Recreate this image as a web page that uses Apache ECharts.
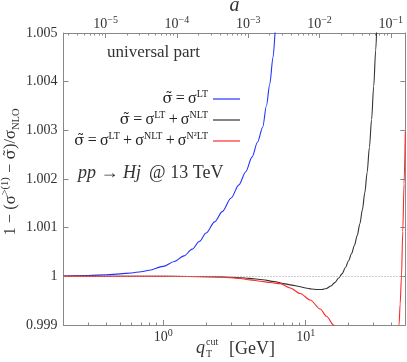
<!DOCTYPE html>
<html><head><meta charset="utf-8">
<script src="https://cdn.jsdelivr.net/npm/echarts@6/dist/echarts.min.js"></script>
<style>html,body{margin:0;padding:0;background:#fff}#c{width:407px;height:362px}</style>
</head><body><div id="c"></div>
<script>
// ---- data ----
const qLT  = [0.2,0.3,0.4,0.5,0.6,0.7,0.8,1.0,1.2,1.4,1.6,1.8,2.0,2.3,2.6,3.0,3.4,3.8,4.2,4.6,5.0,5.3,5.6,5.9,6.2,6.5];
const vLT  = [1.000008,1.000018,1.000032,1.000050,1.000070,1.000095,1.000125,1.000205,1.000305,1.000420,1.000560,1.000720,1.000890,1.001120,1.001330,1.001610,1.001880,1.002150,1.002450,1.002760,1.003070,1.003500,1.003950,1.004500,1.005200,1.006000];

const qNLT = [0.2,0.5,1,1.5,2,2.5,3,3.5,4,5,6,7,8,9,10,11,12,13,14,15,16,17,18,19,20,21,22,23,24,25,26,27,28,29,30,31,32,33];
const vNLT = [1.0,1.0,1.0,0.999998,0.999995,0.99999,0.999982,0.999972,0.999958,0.99993,0.999895,0.99985,0.99982,0.99979,0.99976,0.99974,0.99973,0.99973,0.99975,0.99980,0.99987,0.99996,1.00005,1.00018,1.00032,1.00047,1.00064,1.00084,1.00108,1.00137,1.00172,1.00214,1.00265,1.00322,1.00390,1.00465,1.00550,1.00650];

const qN2LT = [0.2,0.5,1,1.5,2,2.5,3,3.5,4.08,4.8,5.64,6.63,7.79,9.15,10.76,12.65,14,15.7,17,20,25,30,35,40,43,45.2,46,47,48,49,50];
const vN2LT = [1.0,1.0,0.999999,0.999996,0.99999,0.999982,0.99997,0.999955,0.999928,0.9999,0.999872,0.99985,0.99976,0.999647,0.999513,0.999329,0.99918,0.999,0.99885,0.9985,0.998,0.9977,0.9977,0.9981,0.99855,0.999,0.99943,1.0,1.00092,1.0019,1.00297];

const seriesNames = ['LT','NLT','N2LT'];
const legendLabels = {
  LT:   '{t|σ\u0303}{m|\u2009=\u2009σ}{s|LT}',
  NLT:  '{t|σ\u0303}{m|\u2009=\u2009σ}{s|LT}{m|\u2009+\u2009σ}{s|NLT}',
  N2LT: '{t|σ\u0303}{m|\u2009=\u2009σ}{s|LT}{m|\u2009+\u2009σ}{s|NLT}{m|\u2009+\u2009σ}{s|N²LT}'
};

const xMin = 0.2, xMax = 50, mH = 125;
const xMajorTicks = [1, 10];
const xMinorTicks = [0.2,0.3,0.4,0.5,0.6,0.7,0.8,0.9,2,3,4,5,6,7,8,9,20,30,40,50];
const aMajorTicks = [1e-5,1e-4,1e-3,1e-2,1e-1];
const aMinorTicks = [3e-6,4e-6,5e-6,6e-6,7e-6,8e-6,9e-6,2e-5,3e-5,4e-5,5e-5,6e-5,7e-5,8e-5,9e-5,2e-4,3e-4,4e-4,5e-4,6e-4,7e-4,8e-4,9e-4,2e-3,3e-3,4e-3,5e-3,6e-3,7e-3,8e-3,9e-3,2e-2,3e-2,4e-2,5e-2,6e-2,7e-2,8e-2,9e-2];
const yMin = 0.999, yMax = 1.005, yStep = 0.001;

// ---- styling ----
const FONT = '"Liberation Serif", "DejaVu Serif", serif';
const DJ = '"DejaVu Serif", serif';
const AX = '#888888';
const TXT = '#333333';
const colors = {LT:'#2233ff', NLT:'#333333', N2LT:'#ff2a2a'};

const pow10Label = v => {
  const e = Math.round(Math.log10(v));
  return '{b|10}{s|' + (e < 0 ? '\u2212' + (-e) : e) + '}';
};
const tickRich = {
  b: {fontFamily: FONT, fontSize: 14, color: TXT, lineHeight: 18},
  s: {fontFamily: FONT, fontSize: 10, color: TXT, verticalAlign: 'top', lineHeight: 10}
};

const aMin = Math.pow(xMin/mH, 2), aMax = Math.pow(xMax/mH, 2);

function logAxis(opts) {
  return Object.assign({
    type: 'log', logBase: 10, gridIndex: 0,
    splitLine: {show: false}, minorTick: {show: false}, minorSplitLine: {show: false},
    axisLine: {show: false, onZero: false}
  }, opts);
}

const chart = echarts.init(document.getElementById('c'), null, {renderer: 'canvas'});
const mk = (name, qs, vs, extra) => Object.assign({
  name, type: 'line', xAxisIndex: 0, yAxisIndex: 0,
  data: qs.map((q, i) => [q, vs[i]]),
  symbol: 'none', showSymbol: false, smooth: 0.3, smoothMonotone: 'x',
  lineStyle: {width: 1.1, color: colors[name]}, itemStyle: {color: colors[name]},
  clip: true, silent: true
}, extra || {});

const legends = seriesNames.map((n, i) => ({
  data: [n], right: 167, top: 89 + i * 21, orient: 'horizontal', align: 'right',
  icon: 'rect', itemWidth: 27, itemHeight: 1.2, padding: 0, selectedMode: false,
  formatter: name => legendLabels[name],
  textStyle: {
    fontFamily: FONT, fontSize: 16, color: '#222',
    rich: {
      t: {fontFamily: DJ, fontSize: 15, color: '#222', lineHeight: 20},
      m: {fontFamily: FONT, fontSize: 16, color: '#222', lineHeight: 20},
      s: {fontFamily: FONT, fontSize: 10, color: '#222', verticalAlign: 'top', lineHeight: 12}
    }
  }
}));

chart.setOption({
  animation: false,
  backgroundColor: '#fff',
  grid: {left: 63.5, right: 1.7, top: 33, bottom: 37, containLabel: false, outerBoundsMode: 'none'},
  legend: legends,
  xAxis: [
    logAxis({min: xMin, max: xMax, position: 'bottom',
      axisLine: {show: true, onZero: false, lineStyle: {color: AX, width: 1}},
      axisTick: {show: true, inside: true, length: 5, customValues: xMajorTicks, lineStyle: {color: AX}},
      axisLabel: {show: true, customValues: xMajorTicks, formatter: pow10Label, margin: 3, rich: tickRich}
    }),
    logAxis({min: aMin, max: aMax, position: 'top',
      name: 'a', nameLocation: 'middle', nameGap: 27, nameMoveOverlap: false,
      nameTextStyle: {fontFamily: FONT, fontStyle: 'italic', fontSize: 20, color: TXT, verticalAlign: 'middle'},
      axisLine: {show: true, onZero: false, lineStyle: {color: AX, width: 1}},
      axisTick: {show: true, inside: true, length: 5, customValues: aMajorTicks, lineStyle: {color: AX}},
      axisLabel: {show: true, customValues: aMajorTicks, formatter: pow10Label, margin: 0, rich: tickRich}
    }),
    logAxis({min: xMin, max: xMax, position: 'bottom',
      axisTick: {show: true, inside: true, length: 2.5, customValues: xMinorTicks, lineStyle: {color: AX}},
      axisLabel: {show: false}
    }),
    logAxis({min: aMin, max: aMax, position: 'top',
      axisTick: {show: true, inside: true, length: 2.5, customValues: aMinorTicks, lineStyle: {color: AX}},
      axisLabel: {show: false}
    })
  ],
  yAxis: [
    {type: 'value', min: yMin, max: yMax, interval: yStep, position: 'left', gridIndex: 0,
      splitLine: {show: false},
      axisLine: {show: true, onZero: false, lineStyle: {color: AX, width: 1}},
      axisTick: {show: true, inside: true, length: 5, lineStyle: {color: AX}},
      axisLabel: {margin: 6, fontFamily: FONT, fontSize: 14, color: TXT,
        formatter: v => (+v).toFixed(3).replace(/\.?0+$/, '')}
    },
    {type: 'value', min: yMin, max: yMax, interval: yStep, position: 'right', gridIndex: 0,
      splitLine: {show: false},
      axisLine: {show: true, onZero: false, lineStyle: {color: AX, width: 1}},
      axisTick: {show: true, inside: true, length: 5, lineStyle: {color: AX}},
      axisLabel: {show: false}
    }
  ],
  series: [
    mk('LT', qLT, vLT, {
      markLine: {silent: true, symbol: ['none','none'], label: {show: false},
        lineStyle: {color: '#999', type: [1, 2], width: 1}, data: [{yAxis: 1}]}
    }),
    mk('NLT', qNLT, vNLT),
    mk('N2LT', qN2LT, vN2LT)
  ],
  graphic: [
    {type: 'text', x: 11, y: 172, rotation: Math.PI / 2,
      style: {text: '1 \u2212 (σ{sup|>(1)} \u2212 {t|σ\u0303})/σ{sub|NLO}', fill: TXT,
        fontFamily: FONT, fontSize: 16.5, align: 'center', verticalAlign: 'middle', lineHeight: 22,
        rich: {
          t: {fontFamily: DJ, fontSize: 15.5, fill: TXT, lineHeight: 22},
          sup: {fontFamily: FONT, fontSize: 10.5, fill: TXT, verticalAlign: 'top', lineHeight: 11},
          sub: {fontFamily: FONT, fontSize: 10.5, fill: TXT, verticalAlign: 'bottom', lineHeight: 11}
        }}},
    {type: 'text', x: 107, y: 53,
      style: {text: 'universal part', fill: TXT, fontFamily: FONT, fontSize: 17, align: 'left', verticalAlign: 'middle'}},
    {type: 'text', x: 78, y: 173,
      style: {text: '{i|pp} \u2192 {i|Hj} \u2009@ 13 TeV', fill: TXT, fontFamily: FONT, fontSize: 18,
        align: 'left', verticalAlign: 'middle',
        rich: {i: {fontFamily: FONT, fontSize: 18, fontStyle: 'italic', fill: TXT}}}},
    {type: 'text', x: 196, y: 348,
      style: {text: 'q', fill: TXT, fontFamily: FONT, fontSize: 18, fontStyle: 'italic', align: 'left', verticalAlign: 'middle'}},
    {type: 'text', x: 206, y: 342,
      style: {text: 'cut', fill: TXT, fontFamily: FONT, fontSize: 10, align: 'left', verticalAlign: 'middle'}},
    {type: 'text', x: 206, y: 354,
      style: {text: 'T', fill: TXT, fontFamily: FONT, fontSize: 10, align: 'left', verticalAlign: 'middle'}},
    {type: 'text', x: 229, y: 349,
      style: {text: '[GeV]', fill: TXT, fontFamily: FONT, fontSize: 18, align: 'left', verticalAlign: 'middle'}}
  ]
});
</script>
</body></html>
